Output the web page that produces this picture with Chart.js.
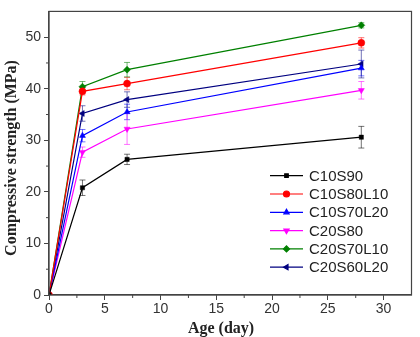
<!DOCTYPE html>
<html>
<head>
<meta charset="utf-8">
<script src="https://cdn.jsdelivr.net/npm/chart.js@4/dist/chart.umd.min.js"></script>
<style>
  html,body{margin:0;padding:0;background:#fff;}
  #wrap{width:420px;height:337px;}
</style>
</head>
<body>
<div id="wrap"><canvas id="strengthChart" width="420" height="337"></canvas></div>
<script>
// ages in days
const ages = [0, 3, 7, 28];

const seriesNames = ['C10S90', 'C10S80L10', 'C10S70L20', 'C20S80', 'C20S70L10', 'C20S60L20'];

// compressive strength (MPa)
const c10s90 = [0, 20.8, 26.3, 30.6];
const c10s80l10 = [0, 39.5, 41.0, 48.9];
const c10s70l20 = [0, 30.9, 35.5, 44.0];
const c20s80 = [0, 27.7, 32.2, 39.7];
const c20s70l10 = [0, 40.4, 43.7, 52.3];
const c20s60l20 = [0, 35.2, 37.9, 44.8];

// error bar half-widths (MPa)
const c10s90Err = [0, 1.5, 1.0, 2.1];
const c10s80l10Err = [0, 0.7, 1.2, 1.0];
const c10s70l20Err = [0, 1.2, 1.5, 1.5];
const c20s80Err = [0, 1.0, 3.0, 1.7];
const c20s70l10Err = [0, 1.0, 1.4, 0.5];
const c20s60l20Err = [0, 1.5, 1.5, 2.7];

const xTicks = [0, 5, 10, 15, 20, 25, 30];
const yTicks = [0, 10, 20, 30, 40, 50];

const colors = ['#000000', '#ff0000', '#0000ff', '#ff00ff', '#008000', '#000080'];
const markers = ['rect', 'circle', 'triangle', 'triangle', 'rectRot', 'triangle'];
const rotations = [0, 0, 0, 180, 0, -90];
const values = [c10s90, c10s80l10, c10s70l20, c20s80, c20s70l10, c20s60l20];
const errors = [c10s90Err, c10s80l10Err, c10s70l20Err, c20s80Err, c20s70l10Err, c20s60l20Err];

const datasets = seriesNames.map((name, i) => ({
    label: name,
    data: ages.map((a, j) => ({x: a, y: values[i][j]})),
    borderColor: colors[i],
    backgroundColor: colors[i],
    pointStyle: markers[i],
    rotation: rotations[i],
    pointRadius: markers[i] === 'rect' ? 3 : 3.5,
    pointBorderWidth: 0.5,
    borderWidth: 1.2,
    showLine: true,
    tension: 0,
    errors: errors[i]
}));

const axisColor = '#444';

const extras = {
    id: 'extras',
    beforeDatasetsDraw(chart) {
        const ctx = chart.ctx;
        const xs = chart.scales.x, ys = chart.scales.y;
        ctx.save();
        // error bars
        chart.data.datasets.forEach(ds => {
            ctx.strokeStyle = ds.borderColor;
            ctx.globalAlpha = 0.55;
            ctx.lineWidth = 1;
            ds.data.forEach((p, j) => {
                const e = ds.errors[j];
                if (!e) return;
                const px = xs.getPixelForValue(p.x);
                const y1 = ys.getPixelForValue(p.y + e);
                const y2 = ys.getPixelForValue(p.y - e);
                ctx.beginPath();
                ctx.moveTo(px, y1); ctx.lineTo(px, y2);
                ctx.moveTo(px - 3, y1); ctx.lineTo(px + 3, y1);
                ctx.moveTo(px - 3, y2); ctx.lineTo(px + 3, y2);
                ctx.stroke();
            });
        });
        ctx.restore();
    },
    afterDraw(chart) {
        const ctx = chart.ctx;
        const a = chart.chartArea;
        const xs = chart.scales.x, ys = chart.scales.y;
        ctx.save();
        // frame
        ctx.strokeStyle = axisColor;
        ctx.lineWidth = 1.2;
        ctx.strokeRect(a.left, a.top, a.right - a.left, a.bottom - a.top);
        // minor ticks
        ctx.lineWidth = 1;
        for (let v = 2.5; v < 32.5; v += 5) {
            const px = xs.getPixelForValue(v);
            ctx.beginPath(); ctx.moveTo(px, a.bottom); ctx.lineTo(px, a.bottom + 3); ctx.stroke();
        }
        for (let v = 5; v < 55; v += 10) {
            const py = ys.getPixelForValue(v);
            ctx.beginPath(); ctx.moveTo(a.left, py); ctx.lineTo(a.left - 3, py); ctx.stroke();
        }
        // axis titles
        ctx.fillStyle = '#222';
        ctx.font = 'bold 16px "Liberation Serif", "DejaVu Serif", serif';
        ctx.textAlign = 'center';
        ctx.textBaseline = 'middle';
        ctx.fillText('Age (day)', 221, 329);
        ctx.translate(12, 158);
        ctx.rotate(-Math.PI / 2);
        ctx.fillText('Compressive strength (MPa)', 0, 0);
        ctx.restore();

        // legend
        ctx.save();
        const lx = 270, ly = 175.7, gap = 18.3;
        ctx.font = '15px "Liberation Sans", Arial, sans-serif';
        ctx.textBaseline = 'middle';
        ctx.textAlign = 'left';
        chart.data.datasets.forEach((ds, i) => {
            const y = ly + i * gap;
            ctx.strokeStyle = ds.borderColor;
            ctx.lineWidth = 1.2;
            ctx.beginPath(); ctx.moveTo(lx, y); ctx.lineTo(lx + 33, y); ctx.stroke();
            ctx.fillStyle = ds.borderColor;
            Chart.helpers.drawPoint(ctx, {
                pointStyle: ds.pointStyle,
                rotation: ds.rotation,
                radius: ds.pointStyle === 'rect' ? 2.5 : 3,
                borderWidth: 0.5
            }, lx + 16.5, y);
            ctx.fillStyle = '#222';
            ctx.fillText(ds.label, lx + 39, y + 1);
        });
        ctx.restore();
    }
};

const ctx = document.getElementById('strengthChart').getContext('2d');
const strengthChart = new Chart(ctx, {
    type: 'scatter',
    data: { datasets },
    plugins: [extras],
    options: {
        responsive: false,
        animation: false,
        devicePixelRatio: 1,
        layout: { padding: { left: 0, top: 3.5, right: 8.5, bottom: 0 } },
        plugins: {
            legend: { display: false },
            tooltip: { enabled: false }
        },
        scales: {
            x: {
                type: 'linear',
                min: 0,
                max: 32.5,
                afterFit: (scale) => { scale.height = 42; },
                afterBuildTicks: (scale) => { scale.ticks = xTicks.map(v => ({value: v})); },
                grid: { drawOnChartArea: false, drawTicks: true, tickLength: 5, color: axisColor },
                border: { color: axisColor, width: 1.2 },
                ticks: {
                    color: '#333',
                    font: { family: '"Liberation Sans", Arial, sans-serif', size: 14 },
                    padding: 1,
                    maxRotation: 0
                }
            },
            y: {
                type: 'linear',
                min: 0,
                max: 55,
                afterFit: (scale) => { scale.width = 49; },
                afterBuildTicks: (scale) => { scale.ticks = yTicks.map(v => ({value: v})); },
                grid: { drawOnChartArea: false, drawTicks: true, tickLength: 5, color: axisColor },
                border: { color: axisColor, width: 1.2 },
                ticks: {
                    color: '#333',
                    font: { family: '"Liberation Sans", Arial, sans-serif', size: 14 },
                    padding: 3
                }
            }
        }
    }
});
</script>
</body>
</html>
